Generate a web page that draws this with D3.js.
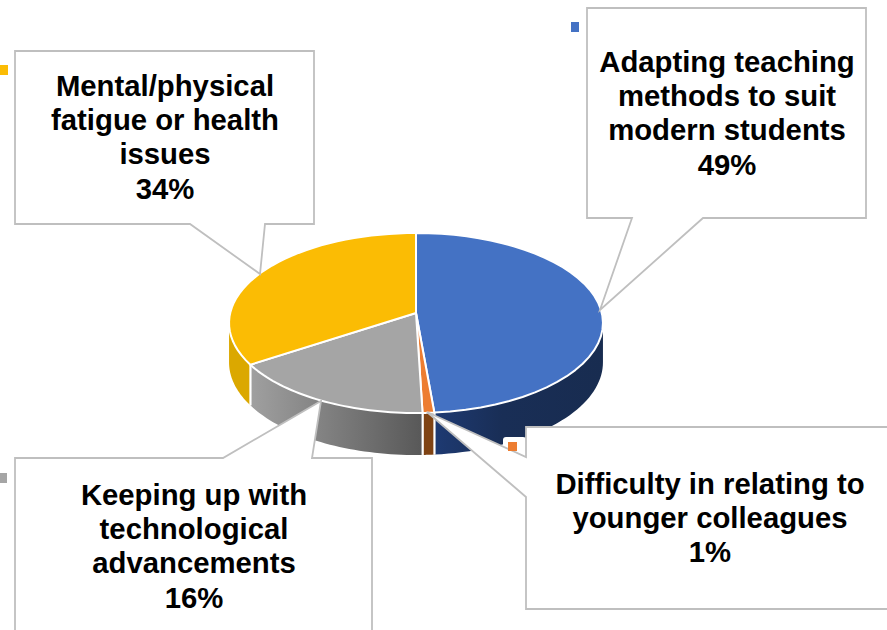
<!DOCTYPE html>
<html><head><meta charset="utf-8">
<script src="https://cdn.jsdelivr.net/npm/d3@7"></script>
<style>html,body{margin:0;padding:0;background:#fff}svg{display:block}</style>
</head><body><svg id="c" width="887" height="630"></svg>
<script>
const categories = ["Adapting teaching methods to suit modern students","Difficulty in relating to younger colleagues","Keeping up with technological advancements","Mental/physical fatigue or health issues"];
const shares = [48.6, 0.9, 16.3, 34.2];
const pctLabels = ["49%","1%","16%","34%"];
const labelLines = [["Adapting teaching","methods to suit","modern students"],["Difficulty in relating to","younger colleagues"],["Keeping up with","technological","advancements"],["Mental/physical","fatigue or health","issues"]];
const topColors = ["#4472c4","#ed7d31","#a5a5a5","#fbbc04"];
const wallRight = ["#182c50","#7f4313","#585858","#dba800"];
const wallLeft = ["#1e3a72","#7f4313","#a0a0a0","#dba800"];

const cx=416,cy=313,A=185.8,B=88.9,e=0.111;
const depthSide=39,depthFront=42;
const boxes=[
 {x:587,y:8,w:279,h:210,lead:[[632,218],[600,310],[703,218]],side:"bottom",text:[727,72],marker:[571,22,8,10]},
 {x:526,y:427,w:370,h:182,lead:[[526,457],[427,412],[526,497]],side:"left",text:[710,494],marker:[508,442,9,9],halo:[503,437,23,21]},
 {x:15,y:458,w:357,h:190,lead:[[223,458],[321,401],[312,458]],side:"top",text:[194,505],marker:[0,473,7,10]},
 {x:15,y:51,w:299,h:173,lead:[[190,224],[260,274],[265,224]],side:"bottom",text:[165,96],marker:[0,65,8,10]}
];
const svg=d3.select("#c");
const defs=svg.append("defs");
const slices=d3.pie().sort(null).value(d=>d)(shares);

// perspective projection of the pie's rim
function rim(t,drop){
  const u=Math.sin(t),v=Math.cos(t),w=1+e*v;
  const d=drop?depthSide+(depthFront-depthSide)*Math.max(0,-v):0;
  return [cx+A*u/w, cy-B*v/w+d];
}
const samples=(a,b)=>d3.range(0,41).map(j=>a+(b-a)*j/40);
const line=d3.line();

// side walls, from one silhouette extreme of the rim to the other
slices.forEach((s,i)=>{
  const a=Math.max(s.startAngle,Math.PI/2+e), b=Math.min(s.endAngle,Math.PI*1.5-e);
  if(b<=a) return;
  const id="wall"+i, p0=rim(a), p1=rim(b);
  const g=defs.append("linearGradient").attr("id",id).attr("gradientUnits","userSpaceOnUse")
    .attr("x1",p0[0]).attr("x2",p1[0]).attr("y1",0).attr("y2",0);
  g.append("stop").attr("offset",0).attr("stop-color",wallRight[i]);
  if(i===0) g.append("stop").attr("offset",.6).attr("stop-color","#192e56");
  g.append("stop").attr("offset",1).attr("stop-color",wallLeft[i]);
  const ts=samples(a,b);
  const pts=ts.map(t=>rim(t,false)).concat(ts.slice().reverse().map(t=>rim(t,true)));
  svg.append("path").attr("d",line(pts)+"Z").attr("fill",`url(#${id})`);
  // white separators between neighbouring wall segments
  [a,b].forEach(t=>{
    if(t===Math.PI/2+e||t===Math.PI*1.5-e) return;
    svg.append("path").attr("d",line([rim(t,false),rim(t,true)])).attr("stroke","#fff").attr("stroke-width",2);
  });
});
// top faces
svg.selectAll("path.top").data(slices).join("path").attr("class","top")
  .attr("d",s=>line([[cx,cy]].concat(samples(s.startAngle,s.endAngle).map(t=>rim(t,false))))+"Z")
  .attr("fill",(d,i)=>topColors[i])
  .attr("stroke","#fff").attr("stroke-width",2).attr("stroke-linejoin","round");

// callouts
boxes.forEach((b,i)=>{
  const r=b.x+b.w,bt=b.y+b.h,L=b.lead;
  let pts;
  if(b.side==="top") pts=[[b.x,b.y],L[0],L[1],L[2],[r,b.y],[r,bt],[b.x,bt]];
  if(b.side==="bottom") pts=[[b.x,b.y],[r,b.y],[r,bt],L[2],L[1],L[0],[b.x,bt]];
  if(b.side==="left") pts=[[b.x,b.y],[r,b.y],[r,bt],[b.x,bt],L[2],L[1],L[0]];
  if(b.halo) svg.append("rect").attr("x",b.halo[0]).attr("y",b.halo[1]).attr("width",b.halo[2]).attr("height",b.halo[3]).attr("rx",3).attr("fill","#fff");
  svg.append("path").attr("d",line(pts)+"Z").attr("fill","#fff").attr("stroke","#bfbfbf").attr("stroke-width",1.8);
  svg.append("rect").attr("x",b.marker[0]).attr("y",b.marker[1]).attr("width",b.marker[2]).attr("height",b.marker[3]).attr("fill",topColors[i]);
  const t=svg.append("text").attr("text-anchor","middle").attr("font-family","'Liberation Sans',Arial,sans-serif")
    .attr("font-weight","700").attr("font-size",29.3).attr("fill","#000");
  labelLines[i].concat(pctLabels[i]).forEach((s,j)=>{
    t.append("tspan").attr("x",b.text[0]).attr("y",b.text[1]+j*34.2).text(s);
  });
});
</script></body></html>
